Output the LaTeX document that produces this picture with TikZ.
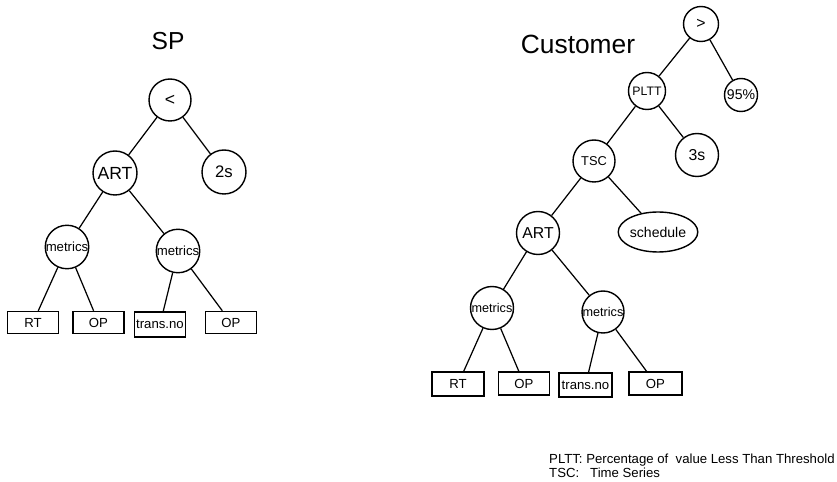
\documentclass[tikz,border=0pt]{standalone}
\usepackage{fontspec}
\setmainfont{Liberation Sans}
\usetikzlibrary{shapes.geometric}

\begin{document}
\begin{tikzpicture}[
  x=0.02cm, y=-0.02cm,
  every node/.style={font=\fontsize{7.5}{9}\selectfont},
  op/.style={draw, circle, line width=0.8pt, inner sep=0pt, minimum size=0.86cm},
  leaf/.style={draw, line width=0.8pt, inner sep=0pt, minimum width=1.02cm, minimum height=0.44cm},
  title/.style={font=\fontsize{15}{18}\selectfont},
  big/.style={font=\fontsize{10}{12}\selectfont}
]
  \useasboundingbox (0,0) rectangle (837,482);

  % SP tree
  \node[title, font=\fontsize{14}{17}\selectfont] (sp) at (168,41) {SP};
  \node[op, big, minimum size=0.84cm] (lroot) at (170,100) {<};
  \node[op, big, minimum size=0.88cm] (lart) at (115,173) {ART};
  \node[op, font=\fontsize{9.5}{11}\selectfont, minimum size=0.88cm] (l2s) at (224,172) {2s};
  \node[op] (lm1) at (67,247) {metrics};
  \node[op] (lm2) at (178,251) {metrics};
  \node[leaf] (lrt) at (33,322.5) {RT};
  \node[leaf] (lop1) at (98.5,322.5) {OP};
  \node[leaf, minimum height=0.5cm] (ltr) at (160,324.5) {trans.no};
  \node[leaf] (lop2) at (231,322.5) {OP};

  % Customer tree
  \node[title] (cust) at (578,44) {Customer};
  \node[op, big, font=\fontsize{9}{11}\selectfont, minimum size=0.7cm] (rroot) at (701,24) {>};
  \node[op, font=\fontsize{7}{8}\selectfont, minimum size=0.74cm] (rpltt) at (647,91) {PLTT};
  \node[op, font=\fontsize{8}{9}\selectfont, minimum size=0.66cm] (r95) at (741,95) {95\%};
  \node[op, font=\fontsize{7.3}{9}\selectfont, minimum size=0.84cm] (rtsc) at (594,161) {TSC};
  \node[op, font=\fontsize{9}{11}\selectfont] (r3s) at (697,155) {3s};
  \node[op, font=\fontsize{9}{11}\selectfont] (rart) at (538,233) {ART};
  \node[draw, ellipse, line width=0.8pt, inner sep=0pt, minimum width=1.26cm, minimum height=0.8cm,
        font=\fontsize{8}{9}\selectfont] (rsch) at (658,232) {schedule};
  \node[op, font=\fontsize{7.2}{9}\selectfont] (rm1) at (492,308) {metrics};
  \node[op, font=\fontsize{7.2}{9}\selectfont, minimum size=0.84cm] (rm2) at (603,312) {metrics};
  \node[leaf, minimum width=1.04cm, minimum height=0.48cm] (rrt) at (458,384) {RT};
  \node[leaf, minimum height=0.46cm] (rop1) at (524,383.5) {OP};
  \node[leaf, minimum width=1.06cm, minimum height=0.48cm] (rtr) at (585.5,385) {trans.no};
  \node[leaf, minimum width=1.06cm, minimum height=0.46cm] (rop2) at (655.5,383.5) {OP};

  \foreach \a/\b in {lroot/lart, lroot/l2s, lart/lm1, lart/lm2, lm1/lrt, lm1/lop1, lm2/ltr, lm2/lop2,
                     rroot/rpltt, rroot/r95, rpltt/rtsc, rpltt/r3s, rtsc/rart, rtsc/rsch,
                     rart/rm1, rart/rm2, rm1/rrt, rm1/rop1, rm2/rtr, rm2/rop2}
    \draw[line width=0.7pt] (\a) -- (\b);

  % key
  \node[anchor=base west] (key1) at (543,463) {PLTT: Percentage of\ \ value Less Than Threshold};
  \node[anchor=base west] (key2) at (543,477) {TSC:\ \ \ Time Series};
\end{tikzpicture}
\end{document}
